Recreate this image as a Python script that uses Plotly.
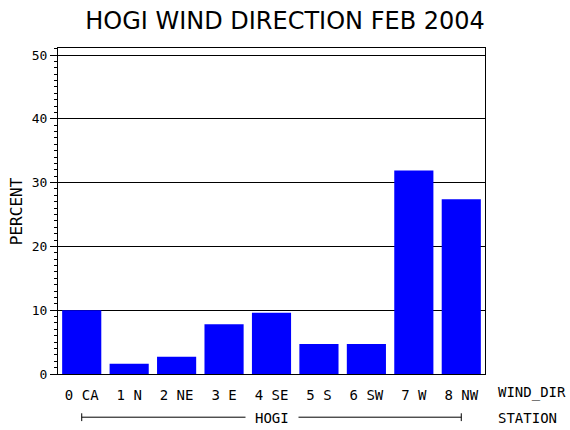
import plotly.graph_objects as go

categories = ["0 CA", "1 N", "2 NE", "3 E", "4 SE", "5 S", "6 SW", "7 W", "8 NW"]
percent = [10.0, 1.6, 2.7, 7.8, 9.6, 4.7, 4.7, 31.9, 27.4]
y_ticks = [0, 10, 20, 30, 40, 50]
y_ticklabels = ["0", "10", "20", "30", "40", "50"]
station = "HOGI"
title_text = "HOGI WIND DIRECTION FEB 2004"

MONO = "DejaVu Sans Mono"

fig = go.Figure()
fig.add_trace(go.Bar(x=categories, y=percent, marker=dict(color="#0000FF", line=dict(width=0)),
                     hoverinfo="skip"))

fig.update_layout(
    width=570, height=430,
    margin=dict(l=58, r=85, t=48, b=56, autoexpand=False),
    paper_bgcolor="white", plot_bgcolor="white",
    bargap=0.175,
    showlegend=False,
    title=dict(text=title_text, x=0.5, xref="container", xanchor="center",
               y=1 - 20.5 / 430, yref="container", yanchor="middle",
               font=dict(family="DejaVu Sans", size=24, color="black")),
)

fig.update_xaxes(
    type="category", showline=True, linecolor="black", linewidth=1, mirror=True,
    showgrid=False, ticks="", ticklabelstandoff=8, automargin=False,
    tickfont=dict(family=MONO, size=14, color="black"),
)
fig.update_yaxes(
    range=[0, 51.1], showline=True, linecolor="black", linewidth=1, mirror=True,
    tickmode="array", tickvals=y_ticks, ticktext=y_ticklabels, automargin=False,
    ticks="outside", ticklen=7, tickcolor="black",
    showgrid=True, gridcolor="black", gridwidth=1, zeroline=False,
    tickfont=dict(family=MONO, size=13, color="black"),
    minor=dict(dtick=1, ticks="outside", ticklen=3, tickcolor="black", showgrid=False),
)

# y-axis title
fig.add_annotation(text="PERCENT", xref="paper", yref="paper", x=-0.098, y=0.5,
                   textangle=-90, showarrow=False, xanchor="center", yanchor="middle",
                   font=dict(family=MONO, size=16, color="black"))
# axis names on right
fig.add_annotation(text="WIND_DIR", xref="paper", yref="paper", x=1.026, y=-0.058,
                   showarrow=False, xanchor="left", yanchor="middle",
                   font=dict(family=MONO, size=14, color="black"))
fig.add_annotation(text="STATION", xref="paper", yref="paper", x=1.026, y=-0.135,
                   showarrow=False, xanchor="left", yanchor="middle",
                   font=dict(family=MONO, size=14, color="black"))

# station bracket
yb = -0.1325
fig.add_shape(type="line", xref="x", yref="paper", x0=0, x1=len(categories) - 1, y0=yb, y1=yb,
              line=dict(color="black", width=1))
fig.add_shape(type="line", xref="x", yref="paper", x0=0, x1=0, y0=yb - 0.012, y1=yb + 0.012,
              line=dict(color="black", width=1))
fig.add_shape(type="line", xref="x", yref="paper", x0=len(categories) - 1, x1=len(categories) - 1,
              y0=yb - 0.012, y1=yb + 0.012, line=dict(color="black", width=1))
fig.add_annotation(text=station, xref="x", yref="paper", x=(len(categories) - 1) / 2, y=-0.135,
                   showarrow=False, xanchor="center", yanchor="middle",
                   bgcolor="white", borderpad=9,
                   font=dict(family=MONO, size=14, color="black"))

fig.write_html("out.html", config={"displayModeBar": False},
               post_script="document.body.style.margin='0';document.body.style.padding='0';")
